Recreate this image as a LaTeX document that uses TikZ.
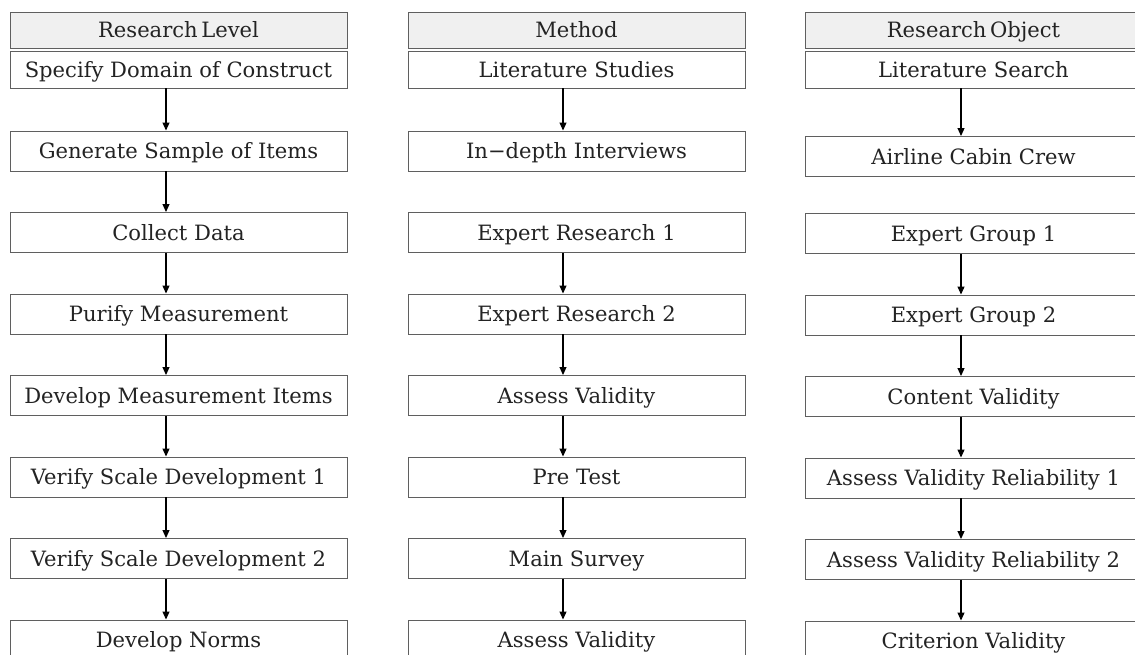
\documentclass[tikz,border=0pt]{standalone}
\usepackage{fontspec}
\setmainfont{DejaVu Serif}
\usetikzlibrary{arrows.meta}
\definecolor{frame}{RGB}{95,95,95}
\definecolor{headfill}{RGB}{240,240,240}
\definecolor{ink}{RGB}{35,35,35}
\tikzset{
    stage/.style={rectangle, draw=frame, line width=0.55pt, fill=white, text=ink, inner sep=0pt, minimum width=6.74cm, minimum height=0.8cm, text height=0.9em, text depth=0pt, font=\fontsize{12}{14}\selectfont},
    head/.style={stage, fill=headfill, minimum height=0.72cm},
    first/.style={stage, minimum height=0.74cm},
    flow/.style={-{Triangle[length=1.6mm, width=1.4mm]}, line width=0.6pt}
}
\begin{document}
\begin{tikzpicture}
    \clip (0,0) rectangle (22.7,-13.08);
    \fill[white] (0,0) rectangle (22.7,-13.08);

    % Research Level column
    \node[head] (HL) at (3.57,-0.60) {Research\,Level};
    \node[first] (L1) at (3.57,-1.39) {Specify Domain of Construct};
    \node[stage] (L2) at (3.57,-3.02) {Generate Sample of Items};
    \node[stage] (L3) at (3.57,-4.65) {Collect Data};
    \node[stage] (L4) at (3.57,-6.28) {Purify Measurement};
    \node[stage] (L5) at (3.57,-7.91) {Develop Measurement Items};
    \node[stage] (L6) at (3.57,-9.54) {Verify Scale Development 1};
    \node[stage] (L7) at (3.57,-11.17) {Verify Scale Development 2};
    \node[stage] (L8) at (3.57,-12.80) {Develop Norms};

    % Method column
    \node[head] (HM) at (11.53,-0.60) {Method};
    \node[first] (M1) at (11.53,-1.39) {Literature Studies};
    \node[stage] (M2) at (11.53,-3.02) {In−depth Interviews};
    \node[stage] (M3) at (11.53,-4.65) {Expert Research 1};
    \node[stage] (M4) at (11.53,-6.28) {Expert Research 2};
    \node[stage] (M5) at (11.53,-7.91) {Assess Validity};
    \node[stage] (M6) at (11.53,-9.54) {Pre Test};
    \node[stage] (M7) at (11.53,-11.17) {Main Survey};
    \node[stage] (M8) at (11.53,-12.80) {Assess Validity};

    % Research Object column (runs off the right edge)
    \node[head] (HO) at (19.47,-0.60) {Research\,Object};
    \node[first] (O1) at (19.47,-1.39) {Literature Search};
    \node[stage] (O2) at (19.47,-3.13) {Airline Cabin Crew};
    \node[stage] (O3) at (19.47,-4.67) {Expert Group 1};
    \node[stage] (O4) at (19.47,-6.30) {Expert Group 2};
    \node[stage] (O5) at (19.47,-7.93) {Content Validity};
    \node[stage] (O6) at (19.47,-9.56) {Assess Validity Reliability 1};
    \node[stage] (O7) at (19.47,-11.19) {Assess Validity Reliability 2};
    \node[stage] (O8) at (19.47,-12.82) {Criterion Validity};

    % Arrows (a little left of the box centre)
    \draw[flow] ([xshift=-0.25cm]L1.south) -- ([xshift=-0.25cm]L2.north);
    \draw[flow] ([xshift=-0.25cm]L2.south) -- ([xshift=-0.25cm]L3.north);
    \draw[flow] ([xshift=-0.25cm]L3.south) -- ([xshift=-0.25cm]L4.north);
    \draw[flow] ([xshift=-0.25cm]L4.south) -- ([xshift=-0.25cm]L5.north);
    \draw[flow] ([xshift=-0.25cm]L5.south) -- ([xshift=-0.25cm]L6.north);
    \draw[flow] ([xshift=-0.25cm]L6.south) -- ([xshift=-0.25cm]L7.north);
    \draw[flow] ([xshift=-0.25cm]L7.south) -- ([xshift=-0.25cm]L8.north);

    \draw[flow] ([xshift=-0.27cm]M1.south) -- ([xshift=-0.27cm]M2.north);
    \draw[flow] ([xshift=-0.27cm]M3.south) -- ([xshift=-0.27cm]M4.north);
    \draw[flow] ([xshift=-0.27cm]M4.south) -- ([xshift=-0.27cm]M5.north);
    \draw[flow] ([xshift=-0.27cm]M5.south) -- ([xshift=-0.27cm]M6.north);
    \draw[flow] ([xshift=-0.27cm]M6.south) -- ([xshift=-0.27cm]M7.north);
    \draw[flow] ([xshift=-0.27cm]M7.south) -- ([xshift=-0.27cm]M8.north);

    \draw[flow] ([xshift=-0.25cm]O1.south) -- ([xshift=-0.25cm]O2.north);
    \draw[flow] ([xshift=-0.25cm]O3.south) -- ([xshift=-0.25cm]O4.north);
    \draw[flow] ([xshift=-0.25cm]O4.south) -- ([xshift=-0.25cm]O5.north);
    \draw[flow] ([xshift=-0.25cm]O5.south) -- ([xshift=-0.25cm]O6.north);
    \draw[flow] ([xshift=-0.25cm]O6.south) -- ([xshift=-0.25cm]O7.north);
    \draw[flow] ([xshift=-0.25cm]O7.south) -- ([xshift=-0.25cm]O8.north);
\end{tikzpicture}
\end{document}
